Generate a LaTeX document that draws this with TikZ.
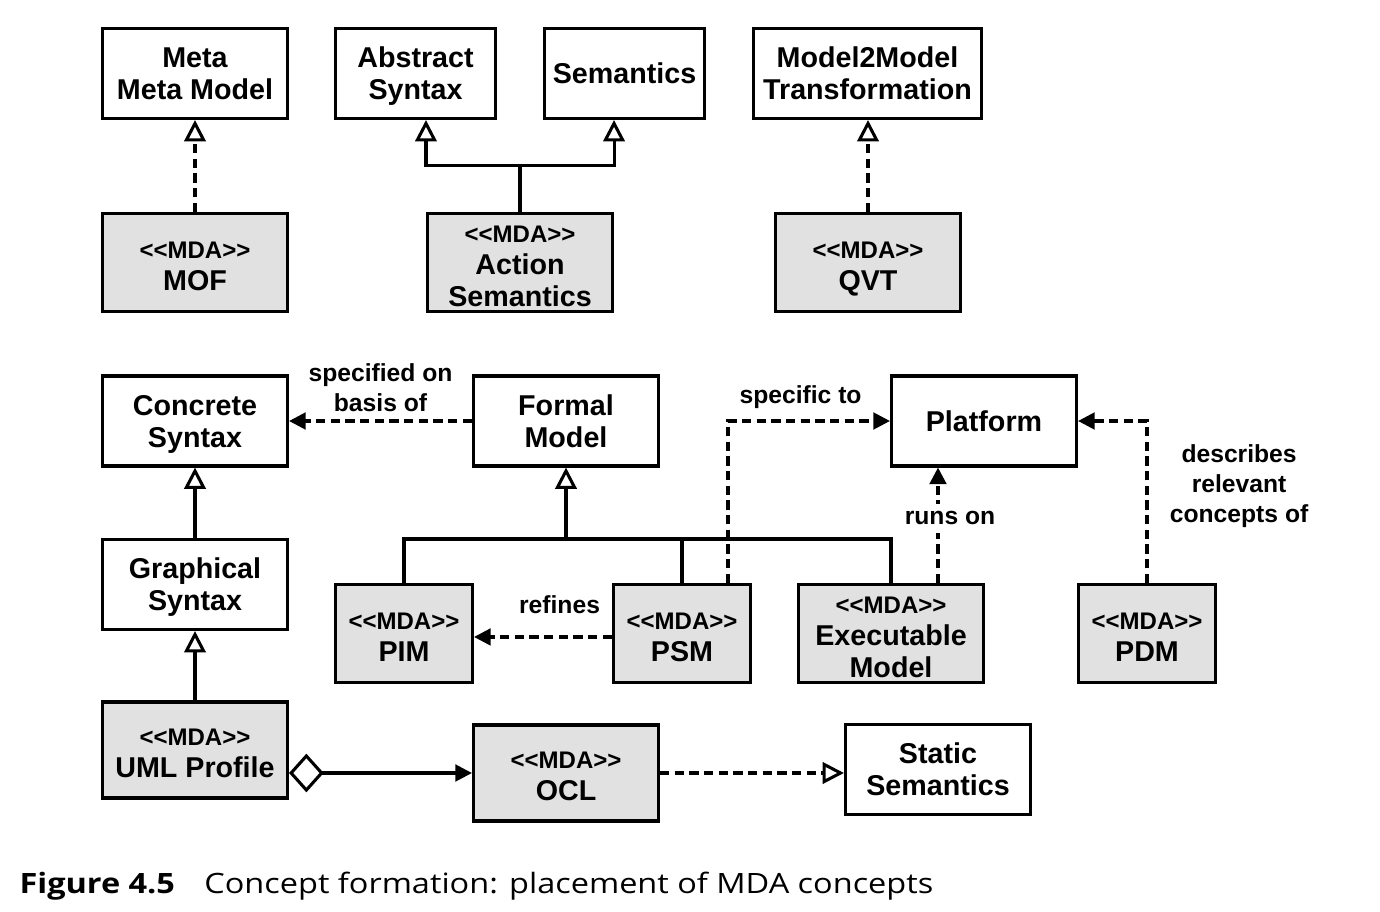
\documentclass[tikz,border=0pt]{standalone}
\usepackage{fontspec}
\setmainfont[FakeStretch=1.16]{Open Sans}
\newfontfamily\diafont{Liberation Sans}
\usetikzlibrary{arrows.meta}

\definecolor{mdagray}{RGB}{225,225,225}
\newcommand{\mdatag}{{\fontsize{18}{24}\selectfont\rule{0pt}{17.5pt}<\kern0pt<MDA>\kern0pt>}}

\tikzset{every picture/.style={line width=2.3pt}}
\tikzset{
  box/.style={draw, fill=white, align=center, inner sep=0pt, text depth=0pt, minimum width=138.75pt, minimum height=67.5pt, font=\diafont\bfseries\fontsize{21.5}{24}\selectfont},
  mdabox/.style={box, fill=mdagray, minimum height=73.5pt},
  smallbox/.style={mdabox, minimum width=102.75pt},
  lbl/.style={font=\diafont\bfseries\fontsize{18.5}{22.5}\selectfont, align=center, inner sep=1pt},
  gen/.style={-{Triangle[open, length=16pt, width=16pt]}},
  real/.style={gen, dash pattern=on 7pt off 4pt},
  dep/.style={-{Triangle[length=12.5pt, width=12.5pt]}, dash pattern=on 7pt off 4pt},
  agg/.style={{Diamond[open, length=26pt, width=29pt]}-{Triangle[length=12.5pt, width=12.5pt]}},
}

\begin{document}
\begin{tikzpicture}[x=0.75pt,y=0.75pt,yscale=-1,xscale=1]
\path[use as bounding box] (0,0) rectangle (1380,912);

% top row
\node[box] (mmm) at (195,73.5) {Meta\\Meta Model};
\node[box, minimum width=120pt] (abs) at (415.5,73.5) {Abstract\\Syntax};
\node[box, minimum width=120pt] (sem) at (624.5,73.5) {Semantics};
\node[box, minimum width=171pt] (m2m) at (867.5,73.5) {Model2Model\\Transformation};
\node[mdabox] (mof) at (195,262.5) {\mdatag\\MOF};
\node[mdabox] (act) at (520,262.5) {\mdatag\\Action\\Semantics};
\node[mdabox] (qvt) at (868,262.5) {\mdatag\\QVT};

% lower part
\node[box] (conc) at (195,421) {Concrete\\Syntax};
\node[box] (formal) at (566,421) {Formal\\Model};
\node[box] (plat) at (984,421) {Platform};
\node[box] (graph) at (195,584.5) {Graphical\\Syntax};
\node[smallbox] (pim) at (404,633.5) {\mdatag\\PIM};
\node[smallbox] (psm) at (682,633.5) {\mdatag\\PSM};
\node[mdabox] (exe) at (891,633.5) {\mdatag\\Executable\\Model};
\node[smallbox] (pdm) at (1147,633.5) {\mdatag\\PDM};
\node[mdabox, minimum height=72pt] (uml) at (195,750) {\mdatag\\UML Profile};
\node[mdabox, minimum height=72pt] (ocl) at (566,773) {\mdatag\\OCL};
\node[box] (stat) at (938,769.5) {Static\\Semantics};

% connectors, top
\draw[real] (mof) -- (mmm);
\draw (act.north) -- ++(0,-46) coordinate (actj);
\draw[gen] (actj) -| (abs.south -| act.north west);
\draw[gen] (actj) -| (sem.south -| act.north east);
\draw[real] (qvt.north) -- (qvt.north |- m2m.south);

% connectors, lower part
\draw[dep] (formal) -- (conc) node[lbl, midway, above=5pt] (lspec) {specified on\\basis of};
\draw[gen] (graph) -- (conc);
\draw[gen] (uml) -- (graph);
\coordinate (fbar) at (566,539);
\draw[gen] (fbar) -- (formal);
\draw (pim) |- (fbar) -| (exe);
\draw (psm.north) -- (psm.north |- fbar);
\draw[dep] ([yshift=2.6pt]psm.west) -- ([yshift=2.6pt]psm.west -| pim.east) node[lbl, pos=0.38, above=15pt] (lref) {refines};
\draw[dep] ([xshift=34.5pt]psm.north) |- (plat) node[lbl, pos=0.724, above=7pt] (lspf) {specific to};
\draw[dep] ([xshift=35.25pt]exe.north) -- ([xshift=35.25pt]exe.north |- plat.south) coordinate[pos=0.56] (runsat);
\node[lbl, fill=white, inner ysep=6pt, xshift=9pt] (lruns) at (runsat) {runs on};
\draw[dep] (pdm) |- (plat) node[lbl, pos=0.3, right=15pt] (ldesc) {describes\\relevant\\concepts of};
\draw[agg] (uml.east |- ocl.west) -- (ocl.west);
\draw[real] (ocl.east) -- (ocl.east -| stat.west);

% caption
\node[anchor=base west, inner sep=0pt] (cap) at (18,893) {\fontsize{21}{24}\selectfont\textbf{Figure 4.5}\hspace{22pt}Concept formation: placement of MDA concepts};
\end{tikzpicture}
\end{document}
